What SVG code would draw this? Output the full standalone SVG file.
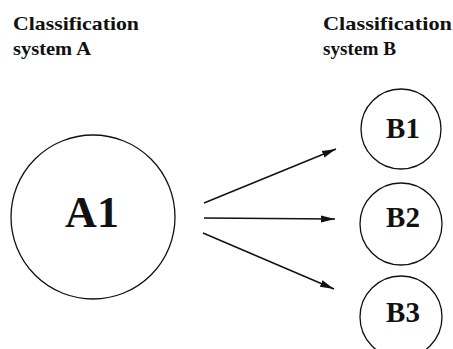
<svg xmlns="http://www.w3.org/2000/svg" width="453" height="349" viewBox="0 0 453 349">
<style>
.hdr{font-family:"Liberation Serif","Times New Roman",serif;font-weight:bold;font-size:19px;fill:#111}
.lbl{font-family:"Liberation Serif","Times New Roman",serif;font-weight:bold;fill:#111;text-anchor:middle}
.node{fill:#fff;stroke:#111;stroke-width:1.3}
.edge{stroke:#111;stroke-width:1.4;fill:none}
</style>
<defs>
<marker id="arr" viewBox="0 0 14 8" refX="14" refY="4" markerWidth="14" markerHeight="8" markerUnits="userSpaceOnUse" orient="auto">
<path d="M0,0.5 L14,4 L0,7.5 Z" fill="#111"/>
</marker>
</defs>
<rect width="453" height="349" fill="#fff"/>
<g id="header-A">
<text class="hdr" x="13" y="30" textLength="126" lengthAdjust="spacingAndGlyphs">Classification</text>
<text class="hdr" x="13" y="55" textLength="78" lengthAdjust="spacingAndGlyphs">system A</text>
</g>
<g id="header-B">
<text class="hdr" x="323" y="30" textLength="129" lengthAdjust="spacingAndGlyphs">Classification</text>
<text class="hdr" x="323" y="55" textLength="73" lengthAdjust="spacingAndGlyphs">system B</text>
</g>
<g id="connectors">
<line class="edge" x1="204" y1="203" x2="336" y2="149" marker-end="url(#arr)"/>
<line class="edge" x1="204" y1="218" x2="335" y2="219" marker-end="url(#arr)"/>
<line class="edge" x1="203" y1="233" x2="334" y2="289" marker-end="url(#arr)"/>
</g>
<g id="A1">
<circle class="node" cx="93" cy="217" r="82"/>
<text class="lbl" x="92" y="227" font-size="44">A1</text>
</g>
<g id="B1">
<circle class="node" cx="401" cy="129" r="40"/>
<text class="lbl" x="403" y="138" font-size="29">B1</text>
</g>
<g id="B2">
<circle class="node" cx="401" cy="224" r="41"/>
<text class="lbl" x="403" y="227" font-size="29">B2</text>
</g>
<g id="B3">
<circle class="node" cx="401" cy="317" r="41"/>
<text class="lbl" x="403" y="322" font-size="29">B3</text>
</g>
</svg>
